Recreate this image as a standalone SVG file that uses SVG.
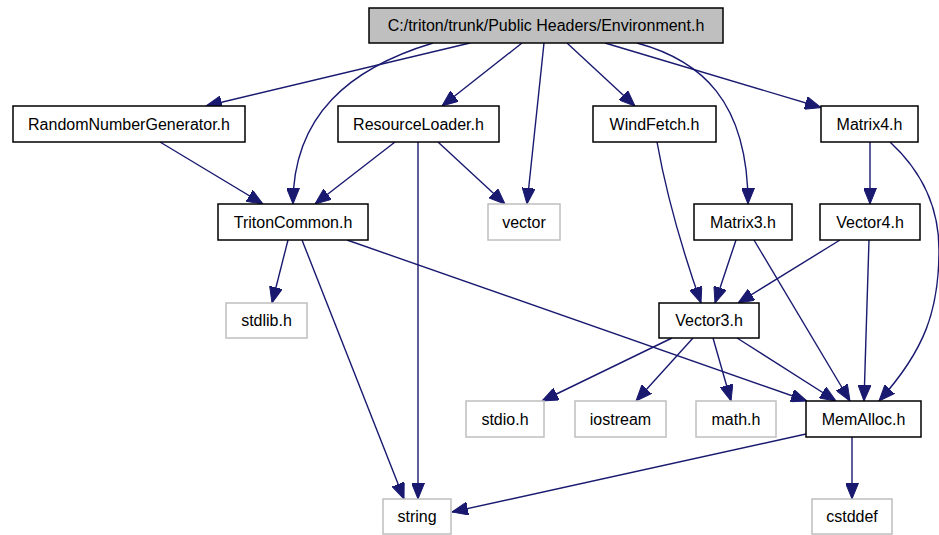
<svg xmlns="http://www.w3.org/2000/svg" width="939" height="535" viewBox="0 0 939 535">
  <style>
    .box { fill: #ffffff; stroke: #000000; stroke-width: 1.5; }
    .sys { fill: #ffffff; stroke: #bfbfbf; stroke-width: 1.5; }
    .root { fill: #bfbfbf; stroke: #000000; stroke-width: 1.5; }
    text { font-family: "Liberation Sans", Arial, Helvetica, sans-serif; font-size: 16px; fill: #000000; text-anchor: middle; }
    .edge { fill: none; stroke: #191970; stroke-width: 1.4; marker-end: url(#arrow); }
  </style>
  <defs>
    <marker id="arrow" markerUnits="userSpaceOnUse" viewBox="0 0 16 13" markerWidth="16" markerHeight="13" refX="16" refY="6.5" orient="auto">
      <path d="M0,0 L16,6.5 L0,13 Z" fill="#191970" stroke="#191970" stroke-width="1"/>
    </marker>
  </defs>
  <rect width="939" height="535" fill="#ffffff"/>

  <!-- include dependencies -->
  <g id="connectors">
    <path class="edge" d="M470,43 L206,106"/>
    <path class="edge" d="M433,43 C350,68 293,115 293,204"/>
    <path class="edge" d="M522,43 L442,106"/>
    <path class="edge" d="M544,43 L527,204"/>
    <path class="edge" d="M567,43 L635,106"/>
    <path class="edge" d="M637,43 C700,60 748,100 748,204"/>
    <path class="edge" d="M605,43 L821,107.5"/>
    <path class="edge" d="M160,142 L263,204"/>
    <path class="edge" d="M395,142 L315,204"/>
    <path class="edge" d="M418,142 L418,499"/>
    <path class="edge" d="M438,142 L505,204"/>
    <path class="edge" d="M288,240 L272,303"/>
    <path class="edge" d="M302,240 L404,499"/>
    <path class="edge" d="M347,240 L807,401"/>
    <path class="edge" d="M657,142 Q670,215 701,303"/>
    <path class="edge" d="M736,240 L715,303"/>
    <path class="edge" d="M754,240 L850,401"/>
    <path class="edge" d="M840,240 L738,303"/>
    <path class="edge" d="M869,240 L864,401"/>
    <path class="edge" d="M870,142 L870,204"/>
    <path class="edge" d="M890,142 C915,165 939,200 939,250 C939,310 925,350 879,401"/>
    <path class="edge" d="M672,338 L542,401"/>
    <path class="edge" d="M693,338 L636,401"/>
    <path class="edge" d="M713,338 L731,401"/>
    <path class="edge" d="M737,338 L836,401"/>
    <path class="edge" d="M806,434 L452,512"/>
    <path class="edge" d="M852,437 L852,499"/>
  </g>

  <g id="environment">
    <rect class="root" x="369" y="8" width="354" height="35"/>
    <text x="546" y="31">C:/triton/trunk/Public Headers/Environment.h</text>
  </g>
  <g id="random-number-generator">
    <rect class="box" x="13" y="106" width="232" height="36"/>
    <text x="129" y="129.5">RandomNumberGenerator.h</text>
  </g>
  <g id="resource-loader">
    <rect class="box" x="338" y="106" width="161" height="36"/>
    <text x="418.5" y="129.5">ResourceLoader.h</text>
  </g>
  <g id="wind-fetch">
    <rect class="box" x="593" y="106" width="123" height="36"/>
    <text x="654.5" y="129.5">WindFetch.h</text>
  </g>
  <g id="matrix4">
    <rect class="box" x="821" y="106" width="97" height="36"/>
    <text x="869.5" y="129.5">Matrix4.h</text>
  </g>
  <g id="triton-common">
    <rect class="box" x="218" y="204" width="150" height="36"/>
    <text x="293" y="227.5">TritonCommon.h</text>
  </g>
  <g id="vector">
    <rect class="sys" x="488" y="204" width="72" height="36"/>
    <text x="524" y="227.5">vector</text>
  </g>
  <g id="matrix3">
    <rect class="box" x="694" y="204" width="98" height="36"/>
    <text x="743" y="227.5">Matrix3.h</text>
  </g>
  <g id="vector4">
    <rect class="box" x="820" y="204" width="100" height="36"/>
    <text x="870" y="227.5">Vector4.h</text>
  </g>
  <g id="stdlib">
    <rect class="sys" x="226" y="303" width="81" height="35"/>
    <text x="266.5" y="326">stdlib.h</text>
  </g>
  <g id="vector3">
    <rect class="box" x="659" y="303" width="100" height="35"/>
    <text x="709" y="326">Vector3.h</text>
  </g>
  <g id="stdio">
    <rect class="sys" x="466" y="401" width="78" height="36"/>
    <text x="505" y="424.5">stdio.h</text>
  </g>
  <g id="iostream">
    <rect class="sys" x="575" y="401" width="91" height="36"/>
    <text x="620.5" y="424.5">iostream</text>
  </g>
  <g id="math">
    <rect class="sys" x="696" y="401" width="80" height="36"/>
    <text x="736" y="424.5">math.h</text>
  </g>
  <g id="mem-alloc">
    <rect class="box" x="806" y="401" width="115" height="36"/>
    <text x="863.5" y="424.5">MemAlloc.h</text>
  </g>
  <g id="string">
    <rect class="sys" x="383" y="499" width="68" height="35"/>
    <text x="417" y="522">string</text>
  </g>
  <g id="cstddef">
    <rect class="sys" x="812" y="499" width="80" height="35"/>
    <text x="852" y="522">cstddef</text>
  </g>
</svg>
